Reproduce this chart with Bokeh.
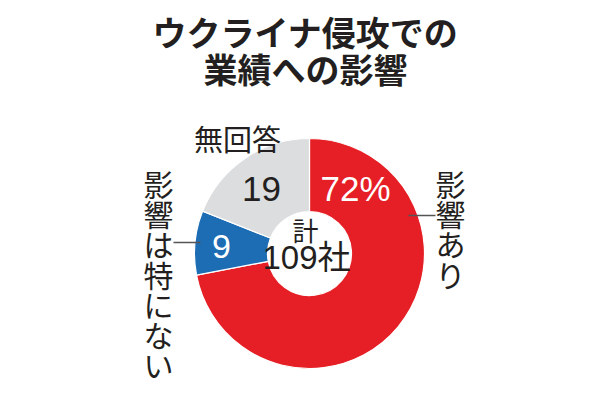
import math
from bokeh.plotting import figure
from bokeh.models import Range1d, ColumnDataSource
from bokeh.core.properties import value
from bokeh.embed import file_html
from bokeh.resources import INLINE

# ---- data ----
title_lines = ["ウクライナ侵攻での", "業績への影響"]
categories = ["影響あり", "影響は特にない", "無回答"]
values = [72, 9, 19]
value_labels = ["72%", "9", "19"]
colors = ["#E61E25", "#1D6DB5", "#DCDDDE"]
label_colors = ["#FFFFFF", "#FFFFFF", "#231F20"]
center_labels = ["計", "109社"]

FONT = "Noto Sans CJK JP"
NUMFONT = "Liberation Sans, Noto Sans CJK JP"
DARK = "#231F20"

W, H = 594, 392
p = figure(width=W, height=H, output_backend="svg", toolbar_location=None,
           x_range=Range1d(0, W), y_range=Range1d(400 - H, 400),
           min_border=0, outline_line_color=None)
p.axis.visible = False
p.grid.visible = False
p.background_fill_color = "white"
p.border_fill_color = "white"

def Y(oy):
    return 400 - oy

cx, cy = 309, Y(253)
r_in, r_out = 42, 115

total = sum(values)
starts, ends = [], []
acc = 0.0
for v in values:
    a0 = math.pi / 2 - 2 * math.pi * acc / total
    acc += v
    a1 = math.pi / 2 - 2 * math.pi * acc / total
    starts.append(a0)
    ends.append(a1)

src = ColumnDataSource(dict(start=starts, end=ends, color=colors, cat=categories))
p.annular_wedge(x=cx, y=cy, inner_radius=r_in, outer_radius=r_out,
                start_angle="start", end_angle="end", direction="clock",
                fill_color="color", line_color="white", line_width=1.2, source=src)

# value labels inside wedges (layout positions)
lab_x = [355, 221, 261]
lab_y = [Y(188), Y(246), Y(188)]
lab_size = ["35px", "34px", "35px"]
for i in range(3):
    p.text(x=[lab_x[i]], y=[lab_y[i]], text=[value_labels[i]],
           text_font=value(NUMFONT), text_font_size=lab_size[i],
           text_color=label_colors[i], text_align="center", text_baseline="middle")

# center text
p.text(x=[305], y=[Y(229)], text=[center_labels[0]], text_font=value(FONT),
       text_font_size="26px", text_color=DARK, text_align="center", text_baseline="middle")
p.text(x=[306], y=[Y(257)], text=[center_labels[1]], text_font=value(NUMFONT),
       text_font_size="33px", text_color=DARK, text_align="center", text_baseline="middle")

# title
p.text(x=[305, 305], y=[Y(31), Y(68)], text=title_lines, text_font=value(FONT),
       text_font_size="34px", text_font_style="bold", text_color=DARK,
       text_align="center", text_baseline="middle")

# category labels
p.text(x=[237], y=[Y(137)], text=[categories[2]], text_font=value(FONT),
       text_font_size="29px", text_color=DARK, text_align="center", text_baseline="middle")

def vertical(label, x, top, pitch=30.3):
    chars = list(label)
    ys = [Y(top + pitch / 2 + pitch * i) for i in range(len(chars))]
    p.text(x=[x] * len(chars), y=ys, text=chars, text_font=value(FONT),
           text_font_size="30px", text_color=DARK,
           text_align="center", text_baseline="middle")

vertical(categories[0], 450, 167)
vertical(categories[1], 158, 167)

# leader lines
p.segment(x0=[408, 173], y0=[Y(215), Y(242)], x1=[435, 200], y1=[Y(215), Y(242)],
          line_color="#555555", line_width=1.5)

open("out.html", "w").write(file_html(p, INLINE))
